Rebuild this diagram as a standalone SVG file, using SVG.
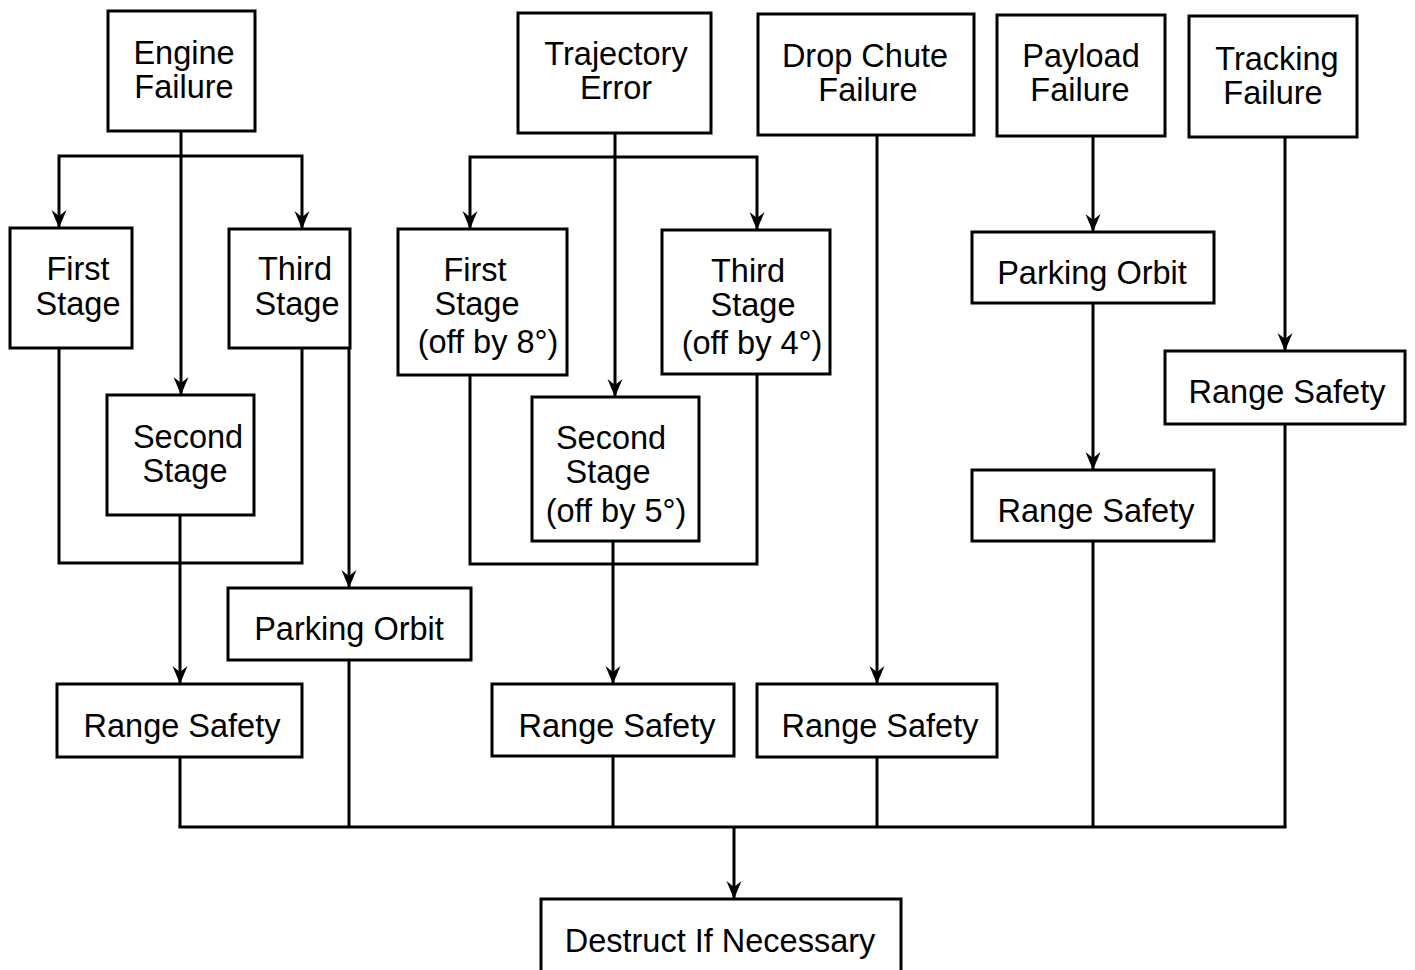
<svg xmlns="http://www.w3.org/2000/svg" width="1415" height="970" viewBox="0 0 1415 970">
<style>
.box{fill:#fff;stroke:#000;stroke-width:3}
.t{font-family:"Liberation Sans",Arial,sans-serif;font-size:32.5px;fill:#000;text-anchor:middle}
.c{fill:none;stroke:#000;stroke-width:3}
.a{marker-end:url(#arr)}
</style>
<defs>
<marker id="arr" markerUnits="userSpaceOnUse" markerWidth="20" markerHeight="18" viewBox="0 0 20 18" refX="18" refY="9" orient="auto">
<path d="M0,1.5 L18,9 L0,16.5 L6,9 Z" fill="#000"/>
</marker>
</defs>
<rect width="1415" height="970" fill="#fff"/>
<g id="connectors">
<path class="c a" d="M181,131 V395"/>
<path class="c a" d="M181,156 H59 V228"/>
<path class="c a" d="M181,156 H302 V229"/>
<path class="c" d="M59,348 V563 H302 V348"/>
<path class="c a" d="M180,515 V684"/>
<path class="c a" d="M349,348 V588"/>
<path class="c" d="M349,660 V827"/>
<path class="c" d="M180,757 V827"/>
<path class="c a" d="M615,133 V397"/>
<path class="c a" d="M615,157 H470 V229"/>
<path class="c a" d="M615,157 H757 V230"/>
<path class="c" d="M470,375 V564 H757 V374"/>
<path class="c a" d="M613,541 V684"/>
<path class="c" d="M613,756 V827"/>
<path class="c a" d="M877,135 V684"/>
<path class="c" d="M877,757 V827"/>
<path class="c a" d="M1093,136 V232"/>
<path class="c a" d="M1093,303 V470"/>
<path class="c" d="M1093,541 V827"/>
<path class="c a" d="M1285,137 V351"/>
<path class="c" d="M1285,424 V827"/>
<path class="c" d="M178.5,827 H1286.5"/>
<path class="c a" d="M734,827 V899"/>
</g>
<g id="engine-failure"><rect class="box" x="108" y="11" width="147" height="120"/><text class="t" x="184" y="64">Engine</text><text class="t" x="184" y="98">Failure</text></g>
<g id="e-first-stage"><rect class="box" x="10" y="228" width="122" height="120"/><text class="t" x="78" y="280">First</text><text class="t" x="78" y="315">Stage</text></g>
<g id="e-third-stage"><rect class="box" x="229" y="229" width="121" height="119"/><text class="t" x="295" y="280">Third</text><text class="t" x="297" y="315">Stage</text></g>
<g id="e-second-stage"><rect class="box" x="107" y="395" width="147" height="120"/><text class="t" x="188" y="448">Second</text><text class="t" x="185" y="482">Stage</text></g>
<g id="e-parking-orbit"><rect class="box" x="228" y="588" width="243" height="72"/><text class="t" x="349" y="640">Parking Orbit</text></g>
<g id="e-range-safety"><rect class="box" x="57" y="684" width="245" height="73"/><text class="t" x="182" y="737">Range Safety</text></g>
<g id="trajectory-error"><rect class="box" x="518" y="13" width="193" height="120"/><text class="t" x="616" y="65">Trajectory</text><text class="t" x="616" y="99">Error</text></g>
<g id="t-first-stage"><rect class="box" x="398" y="229" width="169" height="146"/><text class="t" x="475" y="281">First</text><text class="t" x="477" y="315">Stage</text><text class="t" x="488" y="353">(off by 8°)</text></g>
<g id="t-third-stage"><rect class="box" x="662" y="230" width="168" height="144"/><text class="t" x="748" y="282">Third</text><text class="t" x="753" y="316">Stage</text><text class="t" x="752" y="354">(off by 4°)</text></g>
<g id="t-second-stage"><rect class="box" x="532" y="397" width="167" height="144"/><text class="t" x="611" y="449">Second</text><text class="t" x="608" y="483">Stage</text><text class="t" x="616" y="522">(off by 5°)</text></g>
<g id="t-range-safety"><rect class="box" x="492" y="684" width="242" height="72"/><text class="t" x="617" y="737">Range Safety</text></g>
<g id="drop-chute-failure"><rect class="box" x="758" y="14" width="216" height="121"/><text class="t" x="865" y="67">Drop Chute</text><text class="t" x="868" y="101">Failure</text></g>
<g id="d-range-safety"><rect class="box" x="757" y="684" width="240" height="73"/><text class="t" x="880" y="737">Range Safety</text></g>
<g id="payload-failure"><rect class="box" x="997" y="15" width="168" height="121"/><text class="t" x="1081" y="67">Payload</text><text class="t" x="1080" y="101">Failure</text></g>
<g id="p-parking-orbit"><rect class="box" x="972" y="232" width="242" height="71"/><text class="t" x="1092" y="284">Parking Orbit</text></g>
<g id="p-range-safety"><rect class="box" x="972" y="470" width="242" height="71"/><text class="t" x="1096" y="522">Range Safety</text></g>
<g id="tracking-failure"><rect class="box" x="1189" y="16" width="168" height="121"/><text class="t" x="1277" y="70">Tracking</text><text class="t" x="1273" y="104">Failure</text></g>
<g id="tr-range-safety"><rect class="box" x="1165" y="351" width="240" height="73"/><text class="t" x="1287" y="403">Range Safety</text></g>
<g id="destruct"><rect class="box" x="541" y="899" width="360" height="100"/><text class="t" x="720" y="952">Destruct If Necessary</text></g>
</svg>
